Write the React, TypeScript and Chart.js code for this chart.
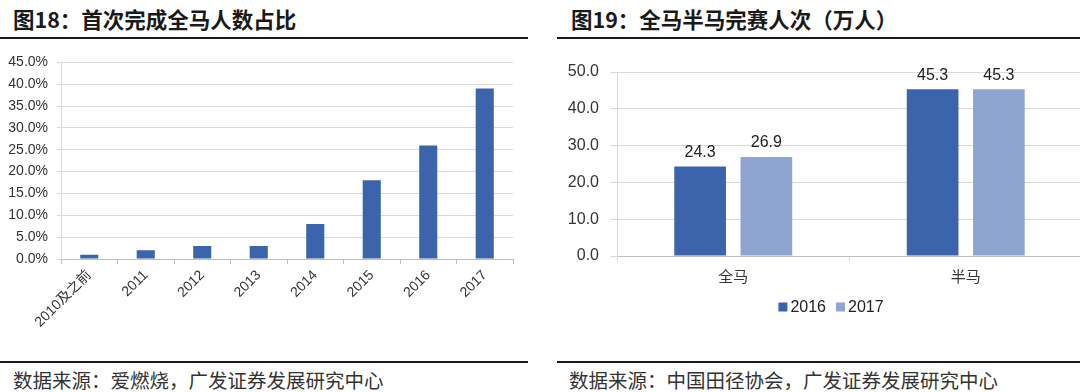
import React, { useEffect, useRef } from 'react';
import { Chart, registerables } from 'chart.js';

Chart.register(...registerables);

// ---------- data ----------
const leftTitle = '图18：首次完成全马人数占比';
const rightTitle = '图19：全马半马完赛人次（万人）';
const leftSource = '数据来源：爱燃烧，广发证券发展研究中心';
const rightSource = '数据来源：中国田径协会，广发证券发展研究中心';

const leftCategories = ['2010及之前', '2011', '2012', '2013', '2014', '2015', '2016', '2017'];
const leftShares = [1.0, 2.0, 3.0, 3.0, 8.0, 18.0, 26.0, 39.0];
const leftAxisMax = 45;
const leftAxisStep = 5;

const rightCategories = ['全马', '半马'];
const seriesNames = ['2016', '2017'];
const finishers2016 = [24.3, 45.3];
const finishers2017 = [26.9, 45.3];
const rightAxisMax = 50;
const rightAxisStep = 10;

// ---------- styles ----------
const LATIN = "'Liberation Sans', Arial, 'Noto Sans CJK SC', sans-serif";
const CJK = "'Noto Sans CJK SC', 'Liberation Sans', sans-serif";
const DARK_BLUE = '#3B64AD';
const LIGHT_BLUE = '#8FA5D1';
const GRID = '#D9D9D9';
const AXIS = '#BFBFBF';
const TEXT = '#333333';

const valueLabelPlugin = {
  id: 'valueLabels',
  afterDatasetsDraw(chart: any) {
    const opts = chart.options.plugins.valueLabels;
    if (!opts || !opts.display) return;
    const ctx = chart.ctx;
    ctx.save();
    ctx.font = `${opts.size}px ${LATIN}`;
    ctx.fillStyle = opts.color;
    ctx.textAlign = 'center';
    ctx.textBaseline = 'middle';
    chart.data.datasets.forEach((ds: any, di: number) => {
      const meta = chart.getDatasetMeta(di);
      meta.data.forEach((bar: any, i: number) => {
        ctx.fillText(Number(ds.data[i]).toFixed(1), bar.x, bar.y - opts.offset);
      });
    });
    ctx.restore();
  },
};

const customLegendPlugin = {
  id: 'customLegend',
  afterDraw(chart: any) {
    const opts = chart.options.plugins.customLegend;
    if (!opts || !opts.display) return;
    const ctx = chart.ctx;
    ctx.save();
    ctx.font = `${opts.size}px ${LATIN}`;
    ctx.textBaseline = 'middle';
    ctx.textAlign = 'left';
    const items = chart.data.datasets.map((ds: any) => ({
      text: ds.label,
      color: ds.backgroundColor,
      w: ctx.measureText(ds.label).width,
    }));
    const total =
      items.reduce((s: number, it: any) => s + opts.box + opts.boxGap + it.w, 0) +
      opts.itemGap * (items.length - 1);
    let x = opts.centerX - total / 2;
    items.forEach((it: any) => {
      ctx.fillStyle = it.color;
      ctx.fillRect(x, opts.y - opts.box / 2, opts.box, opts.box);
      x += opts.box + opts.boxGap;
      ctx.fillStyle = opts.color;
      ctx.fillText(it.text, x, opts.y + 1);
      x += it.w + opts.itemGap;
    });
    ctx.restore();
  },
};

function makeLeftConfig(height: number): any {
  const padTop = 14;
  const plotH = 200;
  return {
    type: 'bar',
    data: {
      labels: leftCategories,
      datasets: [
        {
          label: '占比',
          data: leftShares,
          backgroundColor: DARK_BLUE,
          barPercentage: 0.32,
          categoryPercentage: 1,
        },
      ],
    },
    options: {
      animation: false,
      responsive: false,
      maintainAspectRatio: false,
      layout: { padding: { top: padTop, right: 15, left: 0, bottom: 0 } },
      plugins: { legend: { display: false }, tooltip: { enabled: false } },
      scales: {
        x: {
          grid: { offset: true, drawOnChartArea: false, drawTicks: true, tickLength: 5, color: AXIS },
          border: { display: true, color: AXIS },
          ticks: {
            minRotation: 45,
            maxRotation: 45,
            autoSkip: false,
            padding: 3,
            color: TEXT,
            font: { family: LATIN, size: 14 },
          },
          afterFit(s: any) {
            s.height = height - padTop - plotH;
          },
        },
        y: {
          min: 0,
          max: leftAxisMax,
          grid: { color: GRID, tickLength: 4, drawTicks: true },
          border: { display: true, color: GRID },
          ticks: {
            stepSize: leftAxisStep,
            padding: 9,
            color: TEXT,
            font: { family: LATIN, size: 14 },
            callback: (v: any) => Number(v).toFixed(1) + '%',
          },
          afterFit(s: any) {
            s.width = 61;
          },
        },
      },
    },
  };
}

function makeRightConfig(height: number, canvasLeft: number, canvasTop: number): any {
  const padTop = 27;
  const plotH = 184;
  return {
    type: 'bar',
    data: {
      labels: rightCategories,
      datasets: [
        {
          label: seriesNames[0],
          data: finishers2016,
          backgroundColor: DARK_BLUE,
          barPercentage: 0.78,
          categoryPercentage: 0.57,
        },
        {
          label: seriesNames[1],
          data: finishers2017,
          backgroundColor: LIGHT_BLUE,
          barPercentage: 0.78,
          categoryPercentage: 0.57,
        },
      ],
    },
    plugins: [valueLabelPlugin, customLegendPlugin],
    options: {
      animation: false,
      responsive: false,
      maintainAspectRatio: false,
      layout: { padding: { top: padTop, right: 1, left: 0, bottom: 0 } },
      plugins: {
        legend: { display: false },
        tooltip: { enabled: false },
        valueLabels: { display: true, size: 16, color: '#222222', offset: 14 },
        customLegend: {
          display: true,
          size: 16,
          color: '#222222',
          box: 9,
          boxGap: 3,
          itemGap: 10,
          centerX: 831 - canvasLeft,
          y: 307 - canvasTop,
        },
      },
      scales: {
        x: {
          grid: { offset: true, drawOnChartArea: false, drawTicks: true, tickLength: 5, color: GRID },
          border: { display: true, color: AXIS },
          ticks: {
            padding: 6,
            color: TEXT,
            font: { family: CJK, size: 15 },
          },
          afterFit(s: any) {
            s.height = height - padTop - plotH;
          },
        },
        y: {
          min: 0,
          max: rightAxisMax,
          grid: { color: GRID, tickLength: 7, drawTicks: true },
          border: { display: true, color: GRID },
          ticks: {
            stepSize: rightAxisStep,
            padding: 11,
            color: TEXT,
            font: { family: LATIN, size: 16 },
            callback: (v: any) => Number(v).toFixed(1),
          },
          afterFit(s: any) {
            s.width = 72;
          },
        },
      },
    },
  };
}

function ChartCanvas({ config, left, top, width, height }: any) {
  const ref = useRef<HTMLCanvasElement>(null);
  useEffect(() => {
    const chart = new Chart(ref.current as HTMLCanvasElement, config);
    return () => chart.destroy();
  }, []);
  return (
    <canvas
      ref={ref}
      width={width}
      height={height}
      style={{ position: 'absolute', left, top, width, height, display: 'block' }}
    />
  );
}

const titleStyle: any = {
  position: 'absolute',
  top: 6,
  fontFamily: CJK,
  fontWeight: 700,
  fontSize: 21.5,
  lineHeight: '26px',
  color: '#1a1a1a',
  whiteSpace: 'nowrap',
};

const sourceStyle: any = {
  position: 'absolute',
  top: 368,
  fontFamily: CJK,
  fontWeight: 400,
  fontSize: 19.5,
  lineHeight: '24px',
  color: '#333333',
  whiteSpace: 'nowrap',
};

const rule = (left: number, width: number, top: number): any => ({
  position: 'absolute',
  left,
  top,
  width,
  height: 2,
  background: '#1a1a1a',
});

export default function App() {
  const leftW = 528;
  const leftH = 310;
  const rightLeft = 545;
  const rightTop = 45;
  const rightW = 538;
  const rightH = 290;
  const leftConfig = makeLeftConfig(leftH);
  const rightConfig = makeRightConfig(rightH, rightLeft, rightTop);
  return (
    <div
      style={{
        position: 'fixed',
        left: 0,
        top: 0,
        width: 1080,
        height: 392,
        overflow: 'hidden',
        background: '#ffffff',
      }}
    >
      <div style={{ ...titleStyle, left: 13 }}>{leftTitle}</div>
      <div style={{ ...titleStyle, left: 571 }}>{rightTitle}</div>
      <div style={rule(0, 528, 37)} />
      <div style={rule(557, 523, 37)} />
      <ChartCanvas config={leftConfig} left={0} top={45} width={leftW} height={leftH} />
      <ChartCanvas config={rightConfig} left={rightLeft} top={rightTop} width={rightW} height={rightH} />
      <div style={rule(0, 528, 361)} />
      <div style={rule(557, 523, 361)} />
      <div style={{ ...sourceStyle, left: 13 }}>{leftSource}</div>
      <div style={{ ...sourceStyle, left: 569 }}>{rightSource}</div>
    </div>
  );
}
